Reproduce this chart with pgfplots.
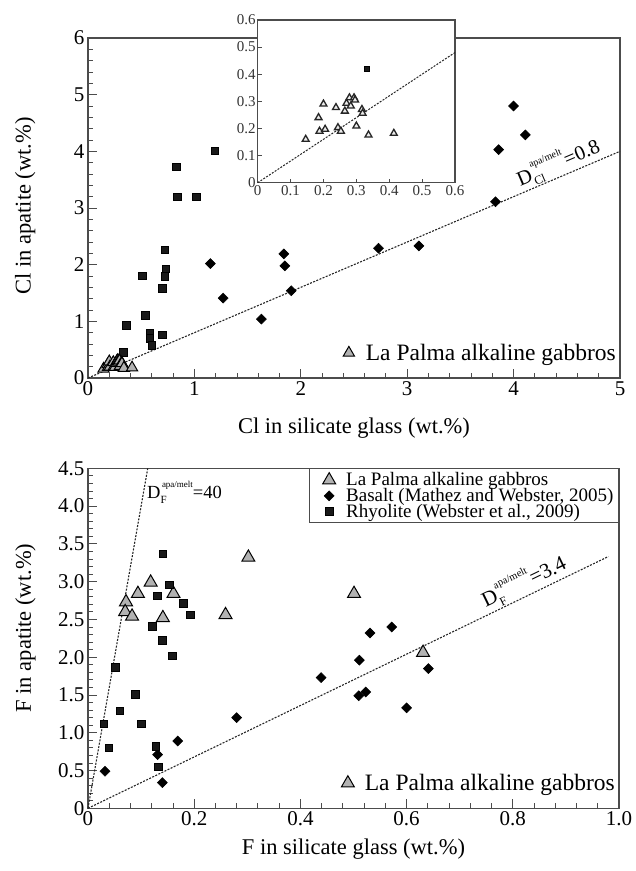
\documentclass[border=0pt]{standalone}
\usepackage{pgfplots}
\pgfplotsset{compat=1.18}
\usepackage{fontspec}
\setmainfont{Liberation Serif}
% D label: #1 subscript, #2 superscript, #3 value, #4 sub size, #5 sup size
\newcommand{\Dlab}[5]{D\rlap{\raisebox{-0.28em}{\fontsize{#4}{#4}\selectfont #1}}\raisebox{0.62em}{\fontsize{#5}{#5}\selectfont\hspace{1.5pt}#2}=#3}
\pgfplotsset{
  mainax/.style={
    scale only axis, anchor=south west, clip=false,
    axis line style={line width=1.3pt, black!70},
    every tick/.style={black!70, line width=0.9pt},
    tick align=inside,
    major tick length=9pt, minor tick length=5pt,
    xtick pos=bottom, ytick pos=left,
    minor x tick num=4, minor y tick num=4,
    /pgf/number format/assume math mode=true,
    tick label style={font=\fontsize{21}{21}\selectfont},
  },
  limg/.style={legend image code/.code={\path[draw=none, fill=none] (-16pt,0pt) -- (16pt,0pt); \draw[##1] plot coordinates {(0pt,0pt)};}},
  tri/.style={only marks, mark=triangle*, mark size=#1, mark options={fill=black!30, draw=black, line width=1pt}, limg},
  tri/.default=7.5pt,
  dia/.style={only marks, mark=square*, mark size=3.5pt, mark options={rotate=45, fill=black, draw=black, line width=0.6pt}, limg},
  sq/.style={only marks, mark=square*, mark size=3.8pt, mark options={fill=black!90, draw=black, line width=0.6pt}, limg},
  dline/.style={black!85, line width=1.1pt, dash pattern=on 2pt off 1.4pt},
  lapalma/.style={legend style={at={(rel axis cs:1,0)}, anchor=south east, draw=none, fill=none,
     font=\fontsize{23.5}{25}\selectfont, inner sep=0pt, nodes={inner sep=1pt}, xshift=-3pt, yshift=15pt}},
}
\begin{document}
\begin{tikzpicture}
\useasboundingbox (0pt,0pt) rectangle (636pt,871pt);
% ---------------- top plot ----------------
\begin{axis}[mainax, at={(88pt,493pt)}, width=532pt, height=340pt,
  xmin=0, xmax=5, ymin=0, ymax=6, xtick={0,1,2,3,4,5}, ytick={0,1,2,3,4,5,6},
  xlabel={Cl in silicate glass (wt.\%)}, ylabel={Cl in apatite (wt.\%)},
  every axis x label/.style={at={(axis description cs:0.5,-0.147)}, anchor=center, font=\fontsize{22.5}{24}\selectfont},
  every axis y label/.style={at={(axis description cs:-0.118,0.506)}, rotate=90, anchor=center, font=\fontsize{22.5}{24}\selectfont},
  lapalma]
\addplot[dline, forget plot] coordinates {(0,0) (5,4)};
\addplot[sq, forget plot] coordinates {
(1.19,4.01) (0.83,3.73) (0.84,3.20) (1.02,3.20) (0.72,2.26) (0.73,1.93) (0.72,1.79) (0.70,1.58)
(0.51,1.80) (0.54,1.11) (0.36,0.93) (0.58,0.79) (0.58,0.70) (0.60,0.58) (0.70,0.76) (0.33,0.45)};
\addplot[dia, forget plot] coordinates {
(4.00,4.80) (4.11,4.29) (3.86,4.03) (3.83,3.11) (3.11,2.33) (2.73,2.29) (1.91,1.54) (1.85,1.98)
(1.84,2.19) (1.63,1.04) (1.27,1.41) (1.15,2.02)};
\addplot[tri=6.5pt] coordinates {
(0.146,0.16) (0.185,0.24) (0.188,0.19) (0.20,0.29) (0.205,0.197) (0.238,0.277) (0.244,0.203)
(0.253,0.19) (0.265,0.264) (0.27,0.293) (0.279,0.313) (0.283,0.283) (0.293,0.313) (0.296,0.305)
(0.30,0.209) (0.317,0.27) (0.319,0.256) (0.337,0.176) (0.414,0.182)};
\addlegendentry{La Palma alkaline gabbros}
\node[rotate=23.08, anchor=south west, inner sep=1pt, font=\fontsize{20.5}{20.5}\selectfont] at (axis cs:4.08,3.264) {\Dlab{Cl}{apa/melt}{0.8}{12}{10}};
\end{axis}
% ---------------- inset ----------------
\begin{axis}[scale only axis, anchor=south west, at={(257.7pt,688.3pt)}, width=197.3pt, height=162.7pt,
  xmin=0, xmax=0.6, ymin=0, ymax=0.6, clip=false,
  axis background/.style={fill=white},
  axis line style={line width=1.2pt, black!70},
  every tick/.style={black!70, line width=0.8pt},
  tick align=inside, major tick length=4pt,
  xtick pos=bottom, ytick pos=left,
  xtick={0,0.1,0.2,0.3,0.4,0.5,0.6}, xticklabels={0,0.1,0.2,0.3,0.4,0.5,0.6},
  ytick={0,0.1,0.2,0.3,0.4,0.5,0.6}, yticklabels={0,0.1,0.2,0.3,0.4,0.5,0.6},
  tick label style={font=\fontsize{15}{15}\selectfont, black!80},
  xticklabel style={inner sep=1pt, yshift=-2pt}, yticklabel style={inner sep=1pt, xshift=-1pt}]
\addplot[black!85, line width=1pt, dash pattern=on 2pt off 1.4pt] coordinates {(0,0) (0.6,0.48)};
\addplot[only marks, mark=square*, mark size=2.5pt, mark options={fill=black!90, draw=black}] coordinates {(0.332,0.419)};
\addplot[only marks, mark=triangle*, mark size=4pt, mark options={fill=black!8, draw=black!85, line width=1.3pt}] coordinates {
(0.146,0.16) (0.185,0.24) (0.188,0.19) (0.20,0.29) (0.205,0.197) (0.238,0.277) (0.244,0.203)
(0.253,0.19) (0.265,0.264) (0.27,0.293) (0.279,0.313) (0.283,0.283) (0.293,0.313) (0.296,0.305)
(0.30,0.209) (0.317,0.27) (0.319,0.256) (0.337,0.176) (0.414,0.182)};
\end{axis}
% ---------------- bottom plot ----------------
\begin{axis}[mainax, at={(88pt,62.7pt)}, width=531pt, height=340pt,
  xmin=0, xmax=1, ymin=0, ymax=4.5,
  xtick={0,0.2,0.4,0.6,0.8,1.0}, xticklabels={0,0.2,0.4,0.6,0.8,1.0},
  ytick={0,0.5,1.0,1.5,2.0,2.5,3.0,3.5,4.0,4.5}, yticklabels={0,0.5,1.0,1.5,2.0,2.5,3.0,3.5,4.0,4.5},
  xlabel={F in silicate glass (wt.\%)}, ylabel={F in apatite (wt.\%)},
  every axis x label/.style={at={(axis description cs:0.5,-0.12)}, anchor=center, font=\fontsize{22.5}{24}\selectfont},
  every axis y label/.style={at={(axis description cs:-0.118,0.53)}, rotate=90, anchor=center, font=\fontsize{22.5}{24}\selectfont},
  legend style={at={(rel axis cs:1,1)}, anchor=north east, draw=black!70, line width=1pt, fill=white,
     font=\fontsize{19}{19}\selectfont, nodes={inner sep=1pt}, row sep=-1pt, inner xsep=4pt, inner ysep=3pt},
  legend cell align=left]
\addplot[dline, forget plot] coordinates {(0,0) (0.1125,4.5)};
\addplot[dline, forget plot] coordinates {(0,0) (0.98,3.332)};
\addplot[tri] coordinates {
(0.0716,2.73) (0.070,2.60) (0.083,2.54) (0.094,2.84) (0.118,2.99) (0.141,2.52) (0.161,2.84)
(0.259,2.56) (0.302,3.32) (0.501,2.84) (0.631,2.06)};
\addlegendentry{La Palma alkaline gabbros}
\addplot[dia] coordinates {
(0.032,0.49) (0.131,0.71) (0.140,0.34) (0.169,0.89) (0.28,1.20) (0.439,1.73) (0.511,1.96)
(0.531,2.32) (0.572,2.40) (0.510,1.49) (0.523,1.54) (0.600,1.33) (0.641,1.85)};
\addlegendentry{Basalt (Mathez and Webster, 2005)}
\addplot[sq] coordinates {
(0.141,3.37) (0.153,2.96) (0.131,2.81) (0.18,2.71) (0.193,2.56) (0.121,2.41) (0.140,2.22) (0.159,2.02)
(0.051,1.87) (0.089,1.51) (0.060,1.29) (0.10,1.12) (0.030,1.12) (0.039,0.80) (0.128,0.82) (0.132,0.55)};
\addlegendentry{Rhyolite (Webster et al., 2009)}
\node[anchor=base west, inner sep=0pt, font=\fontsize{18.5}{18.5}\selectfont] at (axis cs:0.111,4.1) {\Dlab{F}{apa/melt}{40}{11}{9}};
\node[rotate=25.82, anchor=south west, inner sep=1pt, font=\fontsize{21}{21}\selectfont] at (axis cs:0.753,2.56) {\Dlab{F}{apa/melt}{3.4}{12}{10.5}};
\end{axis}
% overlay axis for the second La Palma label
\begin{axis}[scale only axis, anchor=south west, at={(88pt,62.7pt)}, width=531pt, height=340pt,
  xmin=0, xmax=1, ymin=0, ymax=4.5, hide axis, lapalma]
\addlegendimage{tri}
\addlegendentry{La Palma alkaline gabbros}
\addplot[draw=none, forget plot] coordinates {(0.5,1)};
\end{axis}
\end{tikzpicture}
\end{document}
